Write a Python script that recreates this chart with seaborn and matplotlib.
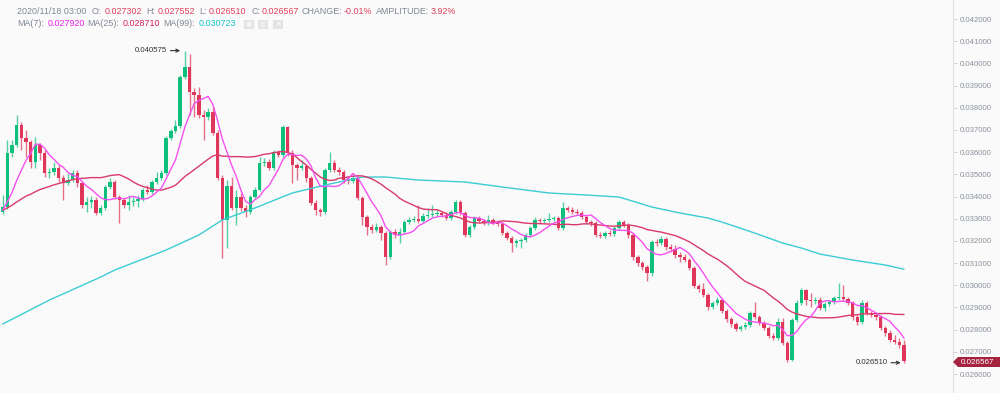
import numpy as np
import pandas as pd
import matplotlib
matplotlib.use("Agg")
import matplotlib.pyplot as plt
import seaborn as sns
from matplotlib.patches import Polygon, Rectangle
from matplotlib.ticker import FormatStrFormatter

# ---------------- data (prices in units of 1e-6) ----------------
open_e6 = [
33301, 33527, 35960, 36321, 37222, 36637, 36456, 35555, 36321, 35960,
35059, 35104, 35284, 34834, 34608, 34743, 35059, 34608, 33617, 33752,
33842, 33256, 33481, 34428, 34653, 33977, 33842, 33617, 33752, 33797,
33887, 34293, 34203, 34653, 34834, 35059, 36637, 36952, 37177, 39386,
39836, 38710, 38575, 37673, 37583, 37808, 36862, 34834, 32941, 34473,
33481, 33977, 33481, 33301, 33977, 34293, 35510, 35555, 35284, 36005,
35870, 37132, 35960, 35420, 35284, 35374, 34834, 33707, 33391, 33301,
35194, 35510, 35194, 35104, 34743, 34698, 34834, 33932, 33076, 32625,
32490, 32625, 32355, 31273, 32400, 32265, 32400, 32851, 32941, 32986,
32896, 33121, 33166, 33211, 33256, 33166, 33031, 33301, 33752, 33256,
32265, 32625, 33031, 32896, 32805, 32941, 32851, 32760, 32355, 32129,
31904, 31994, 32039, 32265, 32580, 32941, 32896, 32941, 32986, 33031,
32580, 33481, 33391, 33301, 33256, 33076, 32851, 32805, 32265, 32220,
32355, 32310, 32580, 32851, 32715, 32265, 31273, 31003, 30822, 30552,
31949, 31904, 32084, 31724, 31634, 31363, 31273, 31138, 30777, 29966,
29831, 29560, 29020, 29200, 29335, 28839, 28479, 28253, 28028, 28118,
28208, 28749, 28569, 28299, 28073, 27712, 27622, 28344, 27397, 26631,
28434, 29200, 29786, 29335, 29290, 29335, 28975, 29155, 29245, 29425,
29470, 29380, 29200, 28569, 28344, 29200, 28749, 28659, 28569, 28073,
27848, 27532, 27442, 27302,
]

close_e6 = [
33527, 35960, 36321, 37222, 36637, 36456, 35555, 36321, 35960, 35059,
35104, 35284, 34834, 34608, 34743, 35059, 34608, 33617, 33752, 33842,
33256, 33481, 34428, 34653, 33977, 33842, 33617, 33752, 33797, 33887,
34293, 34203, 34653, 34834, 35059, 36637, 36952, 37177, 39386, 39836,
38710, 38575, 37673, 37583, 37808, 36862, 34834, 32941, 34473, 33481,
33977, 33481, 33301, 33977, 34293, 35510, 35555, 35284, 36005, 35870,
37132, 35960, 35420, 35284, 35374, 34834, 33707, 33391, 33301, 35194,
35510, 35194, 35104, 34743, 34698, 34834, 33932, 33076, 32625, 32490,
32625, 32355, 31273, 32400, 32265, 32400, 32851, 32941, 32986, 32896,
33121, 33166, 33211, 33256, 33166, 33031, 33301, 33752, 33256, 32265,
32625, 33031, 32896, 32805, 32941, 32851, 32760, 32355, 32129, 31904,
31994, 32039, 32265, 32580, 32941, 32896, 32941, 32986, 33031, 32580,
33481, 33391, 33301, 33256, 33076, 32851, 32805, 32265, 32220, 32355,
32310, 32580, 32851, 32715, 32265, 31273, 31003, 30822, 30552, 31949,
31904, 32084, 31724, 31634, 31363, 31273, 31138, 30777, 29966, 29831,
29560, 29020, 29200, 29335, 28839, 28479, 28253, 28028, 28118, 28208,
28749, 28569, 28299, 28073, 27712, 27622, 28344, 27397, 26631, 28434,
29200, 29786, 29335, 29290, 29335, 28975, 29155, 29245, 29425, 29470,
29380, 29200, 28569, 28344, 29200, 28749, 28659, 28569, 28073, 27848,
27532, 27442, 27302, 26567,
]

high_e6 = [
34067, 36546, 36546, 37673, 37358, 36997, 36546, 36682, 36411, 36096,
35284, 35555, 35420, 34969, 35059, 35194, 35194, 34653, 33977, 34022,
33977, 33617, 34518, 34834, 34743, 34067, 33932, 34067, 33977, 34067,
34383, 34518, 34743, 35104, 35194, 36727, 37042, 37448, 39476, 40575,
40422, 38890, 38935, 37898, 37990, 38034, 36997, 34969, 34743, 34879,
34293, 34158, 33617, 34067, 34428, 35780, 35735, 35690, 36096, 36096,
37222, 37177, 36096, 35510, 35645, 35420, 34924, 33842, 33481, 35284,
36005, 35645, 35329, 35194, 34879, 34969, 34924, 34022, 33166, 32760,
32805, 32715, 32445, 32490, 32535, 32580, 32941, 33076, 33121, 33617,
33256, 33481, 33617, 33391, 33346, 33301, 33391, 33842, 33842, 33346,
32715, 33121, 33121, 32986, 33166, 33031, 32941, 32851, 32445, 32220,
32084, 32129, 32355, 32670, 33076, 33031, 33031, 33256, 33121, 33121,
33752, 33572, 33527, 33436, 33346, 33166, 32941, 32896, 32400, 32445,
32490, 32670, 32941, 32941, 32805, 32355, 31363, 31093, 30913, 32039,
32084, 32220, 32175, 31859, 31814, 31498, 31408, 31228, 30867, 30056,
30101, 29651, 29290, 29470, 29425, 28929, 28569, 28344, 28208, 28344,
28839, 29245, 28659, 28389, 28163, 27848, 28524, 28524, 27487, 28524,
29335, 29876, 29831, 29651, 29470, 29470, 29245, 29335, 29515, 30101,
30011, 29470, 29290, 28659, 29335, 29290, 28839, 28749, 28659, 28163,
27983, 27758, 27622, 27552,
]

low_e6 = [
33211, 33436, 35780, 36231, 36096, 35780, 35284, 35284, 35645, 34879,
34834, 34969, 34653, 33842, 34518, 34653, 34428, 33481, 33301, 33481,
33166, 33166, 33391, 34338, 33887, 32805, 33481, 33391, 33572, 33527,
33797, 34113, 34113, 34563, 34743, 34969, 36546, 36862, 37087, 39296,
37673, 37583, 37538, 36546, 37448, 36772, 34743, 31228, 31679, 33391,
32715, 33346, 33076, 33211, 33887, 34248, 35374, 35194, 35194, 35780,
35780, 35825, 34608, 34743, 35194, 34653, 33617, 33166, 33121, 33211,
35104, 35104, 34969, 34608, 34563, 34608, 33842, 32715, 32265, 32355,
32400, 32039, 30913, 31183, 32129, 31904, 32310, 32760, 32851, 32805,
32805, 33031, 33076, 33121, 33076, 32941, 32941, 33211, 33166, 32175,
32175, 32535, 32805, 32715, 32715, 32760, 32670, 32265, 32039, 31498,
31724, 31679, 31949, 32175, 32490, 32805, 32805, 32851, 32896, 32490,
32490, 33301, 33211, 33166, 32986, 32760, 32670, 32175, 32129, 32129,
32220, 32220, 32490, 32625, 32129, 31138, 30867, 30687, 30191, 30417,
31769, 31814, 31589, 31498, 31228, 31048, 31048, 30687, 29876, 29696,
29470, 28884, 28929, 29110, 28749, 28344, 28118, 27938, 27938, 28028,
28118, 28479, 28208, 27983, 27622, 27532, 27532, 27307, 26541, 26586,
28344, 29110, 29110, 29020, 29155, 28884, 28839, 29065, 29155, 29335,
29290, 29110, 28434, 28208, 28253, 28659, 28569, 28434, 27983, 27712,
27442, 27352, 27172, 26510,
]

# closes of the 24 bars just left of the view, estimated from where MA(7)/MA(25) start
prior_close_e6 = [33200, 33350, 33450, 33300, 33250, 33400, 33550, 33500,
                  33350, 33300, 33450, 33400, 33250, 33300, 33500, 33450,
                  33350, 33400, 33300, 33350, 33450, 33400, 33350, 33300]

# MA(99) (its 99-bar history lies left of the view)
ma99_idx = [0, 10, 21, 24, 35, 42, 47, 54, 62, 70, 77, 82, 89, 99, 107, 117,
            125, 132, 139, 145, 151, 154, 161, 167, 171, 175, 182, 189, 193]
ma99_e6 = [28253, 29335, 30372, 30687, 31589, 32265, 32941, 33481, 34158,
           34563, 34879, 34879, 34743, 34653, 34428, 34158, 34067, 33977,
           33527, 33256, 33031, 32851, 32355, 31904, 31679, 31408, 31138,
           30913, 30723]

ytick_vals = [0.026, 0.027, 0.028, 0.029, 0.030, 0.031, 0.032, 0.033,
              0.034, 0.035, 0.036, 0.037, 0.038, 0.039, 0.040, 0.041, 0.042]

header_line1 = [("2020/11/18 03:00", 17, "lab"), ("O:", 92, "lab"), ("0.027302", 105, "red"),
                ("H:", 146, "lab"), ("0.027552", 158, "red"), ("L:", 199, "lab"),
                ("0.026510", 209, "red"), ("C:", 251, "lab"), ("0.026567", 262, "red"),
                ("CHANGE:", 302, "lab"), ("-0.01%", 344, "red"),
                ("AMPLITUDE:", 376, "lab"), ("3.92%", 431, "red")]
header_line2 = [("MA(7):", 17, "lab"), ("0.027920", 48, "ma7"), ("MA(25):", 87, "lab"),
                ("0.028710", 123, "ma25"), ("MA(99):", 163, "lab"), ("0.030723", 199, "ma99")]

# ---------------- styling ----------------
sns.set_style("white")
plt.rcParams["font.family"] = ["Liberation Sans", "DejaVu Sans"]

UP = "#0fbf7c"
DOWN = "#e0365a"
C_MA7 = "#f450f0"
C_MA25 = "#d93a6c"
C_MA99 = "#3cccd4"
GRAY = "#7f8794"
BG = "#fafafa"
colors = {"lab": GRAY, "red": "#e23d5c", "ma7": "#f21cf0", "ma25": "#d81e5b", "ma99": "#14c4cf"}

W, H = 1000, 393
fig = plt.figure(figsize=(10, 3.93), dpi=100, facecolor=BG)
ax = fig.add_axes([0, 0, 0.953, 1], facecolor=BG)

o = np.array(open_e6) * 1e-6
c = np.array(close_e6) * 1e-6
hi = np.array(high_e6) * 1e-6
lo = np.array(low_e6) * 1e-6
x = np.arange(len(c))
col = np.where(c >= o, UP, DOWN)

ax.vlines(x, lo, hi, colors=col, lw=1.0, alpha=0.7, zorder=2)
body = np.maximum(np.abs(c - o), 4e-5)
ax.bar(x, body, bottom=np.minimum(o, c), width=0.72, color=col, linewidth=0, zorder=2)

full = pd.Series(np.concatenate([np.array(prior_close_e6) * 1e-6, c]))
n_prior = len(prior_close_e6)
df = pd.DataFrame({"idx": x, "close": c})
df["ma7"] = full.rolling(7, min_periods=1).mean().to_numpy()[n_prior:]
df["ma25"] = full.rolling(25, min_periods=1).mean().to_numpy()[n_prior:]
ma99_df = pd.DataFrame({"idx": ma99_idx, "ma99": np.array(ma99_e6) * 1e-6})

sns.lineplot(data=ma99_df, x="idx", y="ma99", ax=ax, color=C_MA99, lw=1.0, zorder=3)
sns.lineplot(data=df, x="idx", y="ma25", ax=ax, color=C_MA25, lw=1.0, zorder=3)
sns.lineplot(data=df, x="idx", y="ma7", ax=ax, color=C_MA7, lw=1.0, zorder=3)

# axis scales: candle k at pixel 2.7 + 4.67k
ax.set_xlim(-2.7 / 4.67, (953 - 2.7) / 4.67)
ax.set_ylim(0.025145, 0.0428563)
ax.set_xlabel("")
ax.set_ylabel("")
ax.set_xticks([])
ax.yaxis.tick_right()
ax.set_yticks(ytick_vals)
ax.yaxis.set_major_formatter(FormatStrFormatter("%.6f"))
ax.tick_params(axis="y", direction="out", length=3, width=0.6, color="#c9c9c9",
               labelsize=5.6, labelcolor="#8a919c", pad=2)
for s in ["top", "left", "bottom"]:
    ax.spines[s].set_visible(False)
ax.spines["right"].set_color("#e2e2e2")
ax.spines["right"].set_linewidth(0.8)

# high / low annotations
imax = int(np.argmax(hi))
imin = int(np.argmin(lo))
arrow = dict(arrowstyle="->", color="#333333", lw=0.8, shrinkA=0, shrinkB=0)
ax.annotate(f"{hi[imax]:.6f}", xy=(imax - 1.0, hi[imax]), xytext=(-13, 0),
            textcoords="offset pixels", ha="right", va="center", fontsize=5.6,
            color="#333333", arrowprops=arrow)
ax.annotate(f"{lo[imin]:.6f}", xy=(imin - 0.7, lo[imin]), xytext=(-13, 0),
            textcoords="offset pixels", ha="right", va="center", fontsize=5.6,
            color="#333333", arrowprops=arrow)

# header texts
def ftxt(px, py, s, color, size=6.4):
    fig.text(px / W, 1 - py / H, s, color=color, fontsize=size, ha="left", va="center")

for s, px, k in header_line1:
    ftxt(px, 11, s, colors[k])
for s, px, k in header_line2:
    ftxt(px, 24, s, colors[k])

for px, glyph in [(244, "\u25C9"), (258, "\u25CE"), (273, "\u2715")]:
    fig.patches.append(Rectangle((px / W, 1 - 29 / H), 10 / W, 9 / H,
                                 transform=fig.transFigure, fc="#e4e4e4", ec="none"))
    fig.text((px + 5) / W, 1 - 24.5 / H, glyph, color="white", fontsize=5,
             ha="center", va="center", family="DejaVu Sans")

# current price tag
py = 362
tag = Polygon([(953 / W, 1 - py / H), (958 / W, 1 - (py - 5) / H), (1000 / W, 1 - (py - 5) / H),
               (1000 / W, 1 - (py + 5) / H), (958 / W, 1 - (py + 5) / H)],
              closed=True, transform=fig.transFigure, fc="#a6233f", ec="none")
fig.patches.append(tag)
fig.text(977 / W, 1 - py / H, f"{c[-1]:.6f}", color="white", fontsize=5.8,
         ha="center", va="center")

fig.savefig("out.png", dpi=100, facecolor=BG)
